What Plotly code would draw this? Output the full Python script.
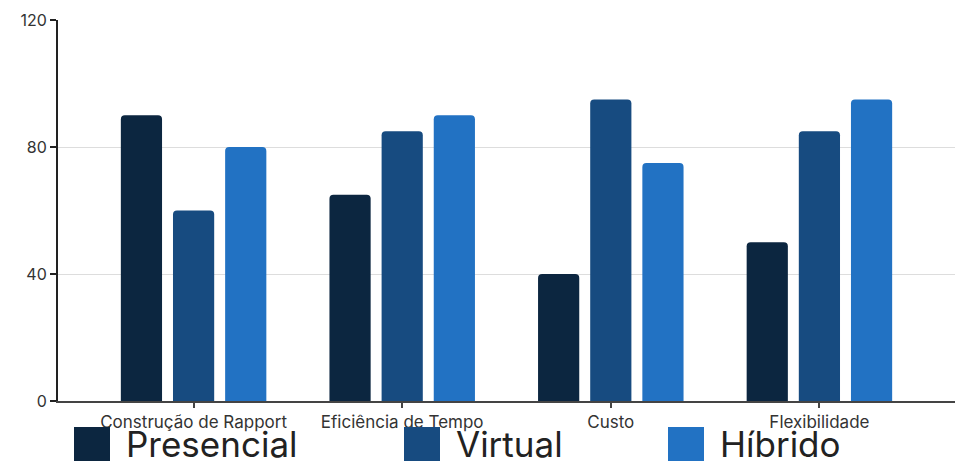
import plotly.graph_objects as go

categories = ["Construção de Rapport", "Eficiência de Tempo", "Custo", "Flexibilidade"]
series_names = ["Presencial", "Virtual", "Híbrido"]
presencial = [90, 65, 40, 50]
virtual = [60, 85, 95, 85]
hibrido = [80, 90, 75, 95]
y_ticks = [0, 40, 80, 120]

colors = ["#0c2640", "#174b80", "#2272c3"]
values = [presencial, virtual, hibrido]

W, H = 959, 461
ML, MR, MT, MB = 58, 4, 20, 60
PW, PH = W - ML - MR, H - MT - MB

def px(x):
    return (x - ML) / PW

def py(y):
    return (H - MB - y) / PH

fig = go.Figure()
for name, vals, col in zip(series_names, values, colors):
    fig.add_trace(go.Bar(x=categories, y=vals, name=name, marker_color=col,
                         marker_line_width=0, showlegend=False))

# custom large legend
legend_x = [74, 404, 668]
shapes = []
annotations = []
for name, col, lx in zip(series_names, colors, legend_x):
    shapes.append(dict(type="rect", xref="paper", yref="paper",
                       x0=px(lx), x1=px(lx + 36), y0=py(427), y1=py(463),
                       fillcolor=col, line_width=0, layer="above"))
    annotations.append(dict(x=px(lx + 50), y=py(444), xref="paper", yref="paper",
                            text=name, showarrow=False, xanchor="left", yanchor="middle",
                            font=dict(family="Inter", size=35, color="#222222")))

fig.update_layout(
    width=W, height=H,
    margin=dict(l=ML, r=MR, t=MT, b=MB),
    paper_bgcolor="white", plot_bgcolor="white",
    barmode="group", bargap=0.25, bargroupgap=0.21, barcornerradius=4,
    font=dict(family="Inter", size=16, color="#333333"),
    shapes=shapes, annotations=annotations,
    xaxis=dict(type="category", range=[-0.65, 3.65], showgrid=False,
               showline=True, linecolor="#444444", linewidth=2,
               ticks="outside", ticklen=5, tickwidth=2, tickcolor="#444444",
               tickfont=dict(size=17, color="#333333")),
    yaxis=dict(range=[0, 120], tickvals=y_ticks, showgrid=True, gridcolor="#dddddd",
               gridwidth=1, zeroline=False, showline=True, linecolor="#222222",
               linewidth=2, ticks="outside", ticklen=6, tickwidth=2, tickcolor="#222222",
               tickfont=dict(size=16, color="#333333")),
)

fig.write_html("out.html")
